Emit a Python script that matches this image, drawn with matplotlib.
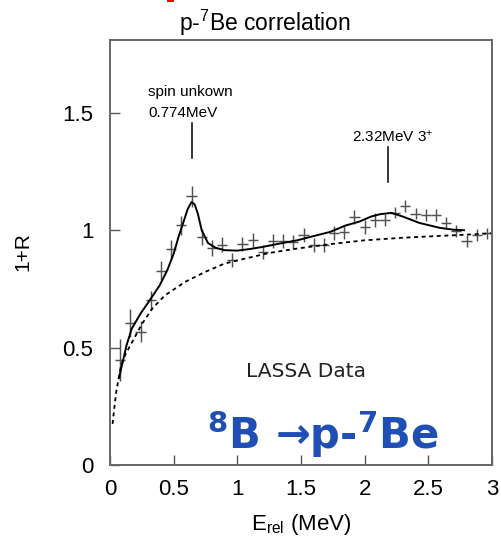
import matplotlib
matplotlib.use("Agg")
import matplotlib.pyplot as plt
from matplotlib.patches import Rectangle

plt.rcParams["font.family"] = ["Liberation Sans", "DejaVu Sans"]
plt.rcParams["mathtext.fontset"] = "custom"
plt.rcParams["mathtext.rm"] = "Liberation Sans"
plt.rcParams["mathtext.it"] = "Liberation Sans:italic"
plt.rcParams["mathtext.bf"] = "DejaVu Sans:bold"

# ---- data ----
e_rel = [0.08, 0.16, 0.24, 0.32, 0.40, 0.48, 0.56, 0.64, 0.72, 0.80,
         0.88, 0.96, 1.04, 1.12, 1.20, 1.28, 1.36, 1.44, 1.52, 1.60,
         1.68, 1.76, 1.84, 1.92, 2.00, 2.08, 2.16, 2.24, 2.32, 2.40,
         2.48, 2.56, 2.64, 2.72, 2.80, 2.88, 2.96]
corr = [0.447, 0.606, 0.567, 0.702, 0.827, 0.918, 1.021, 1.145, 0.971, 0.925,
        0.939, 0.872, 0.941, 0.960, 0.908, 0.955, 0.955, 0.948, 0.979, 0.936,
        0.936, 0.990, 0.993, 1.057, 1.012, 1.045, 1.043, 1.075, 1.102, 1.071,
        1.064, 1.064, 1.031, 0.997, 0.953, 0.979, 0.986]
corr_err = [0.09, 0.06, 0.045, 0.04, 0.04, 0.04, 0.04, 0.045, 0.035, 0.035,
            0.03, 0.03, 0.03, 0.03, 0.03, 0.03, 0.03, 0.03, 0.03, 0.03,
            0.03, 0.03, 0.03, 0.03, 0.03, 0.03, 0.025, 0.025, 0.025, 0.025,
            0.025, 0.025, 0.025, 0.025, 0.025, 0.025, 0.025]
bin_half = 0.04

fit_x = [0.07, 0.10, 0.13, 0.17, 0.24, 0.31, 0.39, 0.45, 0.50, 0.54,
         0.58, 0.61, 0.64, 0.665, 0.69, 0.72, 0.77, 0.83, 0.90, 1.00,
         1.10, 1.20, 1.35, 1.47, 1.60, 1.73, 1.85, 1.96, 2.05, 2.12,
         2.21, 2.30, 2.43, 2.59, 2.70, 2.78]
fit_y = [0.37, 0.44, 0.51, 0.58, 0.645, 0.70, 0.765, 0.83, 0.90, 0.975,
         1.04, 1.09, 1.12, 1.11, 1.07, 1.00, 0.945, 0.925, 0.915, 0.913,
         0.92, 0.929, 0.945, 0.957, 0.975, 0.993, 1.02, 1.037, 1.058, 1.068,
         1.074, 1.058, 1.031, 1.01, 1.002, 1.0]

bg_x = [0.02, 0.035, 0.05, 0.085, 0.12, 0.17, 0.25, 0.33, 0.43, 0.59,
        0.75, 0.90, 1.06, 1.25, 1.47, 1.75, 2.00, 2.30, 2.60, 2.80, 3.00]
bg_y = [0.175, 0.25, 0.315, 0.42, 0.47, 0.52, 0.60, 0.665, 0.722, 0.78,
        0.823, 0.858, 0.879, 0.903, 0.922, 0.942, 0.957, 0.968, 0.976, 0.981, 0.987]

fig = plt.figure(figsize=(5.01, 5.41), dpi=100)
ax = fig.add_axes([0.2196, 0.1405, 0.7624, 0.7855])

ax.errorbar(e_rel, corr, xerr=bin_half, yerr=corr_err, fmt="none",
            ecolor="#505050", elinewidth=1.05, capsize=0)
ax.plot(fit_x, fit_y, color="black", lw=1.4)
ax.plot(bg_x, bg_y, color="black", lw=1.3, linestyle=(0, (2.2, 2.0)))

# state markers
ax.plot([0.642, 0.642], [1.306, 1.455], color="black", lw=1.1)
ax.plot([2.187, 2.187], [1.206, 1.353], color="black", lw=1.1)
ax.text(0.30, 1.588, "spin unkown", fontsize=11, va="center")
ax.text(0.30, 1.498, "0.774MeV", fontsize=11, va="center")
ax.text(1.90, 1.397, "2.32MeV 3$^{+}$", fontsize=11, va="center")

ax.text(1.07, 0.40, "LASSA Data", fontsize=14.5, family="DejaVu Sans",
        va="center", color="#222222")
ax.text(0.765, 0.13, r"$^{\mathbf{8}}$B →p-$^{\mathbf{7}}$Be", fontsize=30,
        family="DejaVu Sans", fontweight="bold",
        color="#1f4fb5", va="center")

ax.set_xlim(0, 3)
ax.set_ylim(0, 1.81)
ax.set_xticks([0, 0.5, 1, 1.5, 2, 2.5, 3])
ax.set_xticklabels(["0", "0.5", "1", "1.5", "2", "2.5", "3"])
ax.set_yticks([0, 0.5, 1, 1.5])
ax.set_yticklabels(["0", "0.5", "1", "1.5"])
ax.tick_params(direction="in", length=7, width=1, color="#555555",
               labelsize=16, top=False, right=False)
ax.tick_params(axis="y", pad=12)
ax.tick_params(axis="x", pad=10)
for sp in ax.spines.values():
    sp.set_color("#666666")
    sp.set_linewidth(1.4)

ax.set_xlabel("E$_{\\rm rel}$ (MeV)", fontsize=16, labelpad=9)
fig.text(23 / 501, 1 - 252 / 541, "1+R", rotation=90, fontsize=15,
         ha="center", va="center")
fig.text(265 / 501, 1 - 23 / 541, "p-$^7$Be correlation", fontsize=16.5,
         ha="center", va="center")

fig.patches.append(Rectangle((167 / 501, 1 - 2 / 541), 7 / 501, 2 / 541,
                             transform=fig.transFigure, facecolor="red",
                             linewidth=0))

fig.savefig("out.png", dpi=100)
